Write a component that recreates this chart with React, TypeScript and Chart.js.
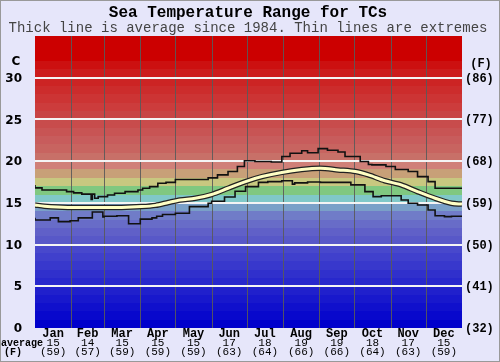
import { useEffect, useRef } from "react";
import { Chart, registerables } from "chart.js";

Chart.register(...registerables);

const TITLE = "Sea Temperature Range for TCs";
const SUBTITLE = "Thick line is average since 1984. Thin lines are extremes";

const MONTHS = ["Jan", "Feb", "Mar", "Apr", "May", "Jun", "Jul", "Aug", "Sep", "Oct", "Nov", "Dec"];
const MONTH_START_DAYS = [0, 31, 59, 90, 120, 151, 181, 212, 243, 273, 304, 334, 365];
const AVG_C = [15, 14, 15, 15, 15, 17, 18, 19, 19, 18, 17, 15];
const AVG_F = [59, 57, 59, 59, 59, 63, 64, 66, 66, 64, 63, 59];

const C_TICKS = [0, 5, 10, 15, 20, 25, 30];
const F_TICKS = ["(32)", "(41)", "(50)", "(59)", "(68)", "(77)", "(86)"];

// extremes (daily max), stepped
const MAX_DAYS = [0, 6, 27, 33, 40, 48, 49, 51, 54, 62, 68, 77, 88, 92, 98, 105, 112, 120, 148, 156, 165, 173, 179, 188, 202, 211, 218, 228, 233, 242, 250, 259, 265, 278, 285, 288, 300, 308, 319, 327, 336, 342, 349, 365];
const MAX_VALS = [17.15, 16.8, 16.55, 16.35, 16.2, 16.05, 15.4, 16.05, 15.55, 15.75, 15.95, 16.15, 16.35, 16.55, 16.75, 16.95, 17.35, 17.45, 17.8, 18.0, 18.35, 18.75, 19.35, 20.05, 19.95, 19.9, 20.55, 20.95, 21.25, 21.0, 21.5, 21.3, 21.1, 20.55, 19.95, 19.6, 19.55, 19.35, 19.0, 18.75, 18.15, 17.55, 16.75, 16.75];

// extremes (daily min), stepped
const MIN_DAYS = [0, 13, 20, 30, 37, 49, 58, 59, 70, 80, 90, 100, 104, 109, 120, 132, 148, 151, 162, 171, 180, 191, 199, 211, 220, 222, 233, 244, 270, 282, 289, 296, 313, 319, 327, 336, 342, 350, 356, 365];
const MIN_VALS = [13.2, 12.95, 13.2, 12.75, 12.85, 13.2, 13.9, 13.3, 13.4, 13.45, 12.5, 13.05, 13.2, 13.4, 13.6, 13.75, 14.55, 14.95, 15.2, 15.7, 16.4, 16.95, 17.45, 17.55, 17.65, 17.25, 17.4, 17.5, 17.45, 17.15, 16.35, 15.75, 15.85, 15.35, 14.95, 14.75, 14.15, 13.45, 13.35, 13.4];

// average
const AVG_DAYS = [0, 8, 28, 57, 74, 91, 103, 114, 124, 137, 151, 165, 180, 194, 211, 228, 244, 259, 274, 285, 299, 313, 327, 342, 356, 365];
const AVG_VALS = [14.75, 14.6, 14.45, 14.45, 14.45, 14.55, 14.7, 15.05, 15.35, 15.55, 16.0, 16.75, 17.55, 18.15, 18.65, 19.0, 19.15, 18.95, 18.75, 18.35, 17.65, 17.15, 16.35, 15.55, 14.95, 14.85];

// one colour per 1°C band, from 0 upward
const BAND_COLORS = [
  "rgb(0,0,204)", "rgb(8,8,204)", "rgb(16,16,204)", "rgb(24,24,204)", "rgb(32,32,204)",
  "rgb(40,40,204)", "rgb(48,48,204)", "rgb(56,56,204)", "rgb(64,64,204)", "rgb(72,72,204)",
  "rgb(88,88,200)", "rgb(96,96,200)", "rgb(104,108,200)", "rgb(112,124,200)", "rgb(122,160,200)",
  "rgb(128,200,200)", "rgb(128,200,128)", "rgb(200,200,128)", "rgb(200,160,120)", "rgb(208,128,120)",
  "rgb(200,112,104)", "rgb(200,100,96)", "rgb(200,92,92)", "rgb(200,84,84)", "rgb(200,76,76)",
  "rgb(200,68,68)", "rgb(204,60,60)", "rgb(204,52,52)", "rgb(204,44,44)", "rgb(204,36,36)",
  "rgb(204,28,28)", "rgb(204,16,16)", "rgb(204,0,0)", "rgb(204,0,0)", "rgb(204,0,0)",
];

const BG = "#e6e6fa";
const MONO = '"Liberation Mono", "DejaVu Sans Mono", monospace';
const SANS = '"DejaVu Sans", sans-serif';

const pts = (xs: number[], ys: number[]) => xs.map((x, i) => ({ x, y: ys[i] }));

const backgroundPlugin = {
  id: "bgBands",
  beforeDraw(chart: any) {
    const { ctx, chartArea, scales } = chart;
    const y = scales.y;
    ctx.save();
    ctx.fillStyle = BG;
    ctx.fillRect(0, 0, chart.width, chart.height);
    BAND_COLORS.forEach((c, d) => {
      const top = y.getPixelForValue(d + 1);
      const bot = y.getPixelForValue(d);
      ctx.fillStyle = c;
      ctx.fillRect(chartArea.left, Math.round(top), chartArea.right - chartArea.left, Math.round(bot) - Math.round(top));
    });
    ctx.restore();
  },
  beforeDatasetsDraw(chart: any) {
    const { ctx, chartArea, scales } = chart;
    const x = scales.x;
    const y = scales.y;
    ctx.save();
    ctx.strokeStyle = "rgba(90,90,90,0.9)";
    ctx.lineWidth = 1;
    MONTH_START_DAYS.slice(1, -1).forEach((d) => {
      const px = Math.round(x.getPixelForValue(d)) + 0.5;
      ctx.beginPath();
      ctx.moveTo(px, chartArea.top);
      ctx.lineTo(px, chartArea.bottom);
      ctx.stroke();
    });
    ctx.strokeStyle = "#f4f4f4";
    ctx.lineWidth = 2;
    C_TICKS.slice(1).forEach((v) => {
      const py = Math.round(y.getPixelForValue(v));
      ctx.beginPath();
      ctx.moveTo(chartArea.left, py);
      ctx.lineTo(chartArea.right, py);
      ctx.stroke();
    });
    ctx.restore();
  },
  afterDraw(chart: any) {
    const { ctx, chartArea, scales } = chart;
    const x = scales.x;
    const y = scales.y;
    ctx.save();
    // frame
    ctx.strokeStyle = "#999";
    ctx.lineWidth = 1;
    ctx.strokeRect(0.5, 0.5, chart.width - 1, chart.height - 1);

    ctx.textBaseline = "middle";
    ctx.textAlign = "center";
    ctx.fillStyle = "#000";
    ctx.font = `bold 16px ${MONO}`;
    ctx.fillText(TITLE, 248, 13);
    ctx.fillStyle = "#444";
    ctx.font = `14px ${MONO}`;
    ctx.fillText(SUBTITLE, 248, 28);

    // left ticks
    ctx.fillStyle = "#000";
    ctx.font = `bold 12px ${SANS}`;
    ctx.textAlign = "right";
    C_TICKS.forEach((v) => {
      ctx.fillText(String(v), 22, y.getPixelForValue(v) + 1);
    });
    ctx.textAlign = "center";
    ctx.fillText("C", 16, y.getPixelForValue(30) - 16);

    // right ticks
    ctx.font = `bold 12px ${MONO}`;
    ctx.textAlign = "left";
    C_TICKS.forEach((v, i) => {
      ctx.fillText(F_TICKS[i], chartArea.right + 3, y.getPixelForValue(v) + 1);
    });
    ctx.textAlign = "center";
    ctx.fillText("(F)", 481, y.getPixelForValue(30) - 14);

    // bottom labels
    MONTHS.forEach((m, i) => {
      const cx = x.getPixelForValue((MONTH_START_DAYS[i] + MONTH_START_DAYS[i + 1]) / 2);
      ctx.font = `bold 12px ${MONO}`;
      ctx.fillText(m, cx, chartArea.bottom + 6);
      ctx.font = `11px ${MONO}`;
      ctx.fillText(String(AVG_C[i]), cx, chartArea.bottom + 15);
      ctx.fillText(`(${AVG_F[i]})`, cx, chartArea.bottom + 24);
    });
    ctx.font = `bold 10px ${MONO}`;
    ctx.fillText("average", 22, chartArea.bottom + 15);
    ctx.fillText("(F)", 13, chartArea.bottom + 24);
    ctx.restore();
  },
};

export default function App() {
  const ref = useRef<HTMLCanvasElement | null>(null);
  useEffect(() => {
    document.body.style.margin = "0";
    if (!ref.current) return;
    const chart = new Chart(ref.current, {
      type: "line",
      data: {
        datasets: [
          {
            label: "avg",
            data: pts(AVG_DAYS, AVG_VALS),
            borderColor: "#ffffc4",
            borderWidth: 3,
            pointRadius: 0,
            tension: 0.3,
            order: 0,
          },
          {
            label: "avg outline",
            data: pts(AVG_DAYS, AVG_VALS),
            borderColor: "#222",
            borderWidth: 5.5,
            pointRadius: 0,
            tension: 0.3,
            order: 1,
          },
          {
            label: "max",
            data: pts(MAX_DAYS, MAX_VALS),
            borderColor: "#111",
            borderWidth: 1.6,
            pointRadius: 0,
            stepped: "after",
            order: 2,
          },
          {
            label: "min",
            data: pts(MIN_DAYS, MIN_VALS),
            borderColor: "#111",
            borderWidth: 1.6,
            pointRadius: 0,
            stepped: "after",
            order: 2,
          },
        ],
      },
      options: {
        responsive: false,
        animation: false,
        layout: { padding: { left: 35, right: 38, top: 36, bottom: 34 } },
        plugins: { legend: { display: false }, tooltip: { enabled: false }, title: { display: false } },
        scales: {
          x: { type: "linear", min: 0, max: 365, display: false },
          y: { type: "linear", min: 0, max: 35, display: false },
        },
      },
      plugins: [backgroundPlugin],
    } as any);
    return () => chart.destroy();
  }, []);
  return (
    <div style={{ position: "absolute", left: 0, top: 0, width: 500, height: 362 }}>
      <canvas ref={ref} width={500} height={362} style={{ width: 500, height: 362, display: "block" }} />
    </div>
  );
}
